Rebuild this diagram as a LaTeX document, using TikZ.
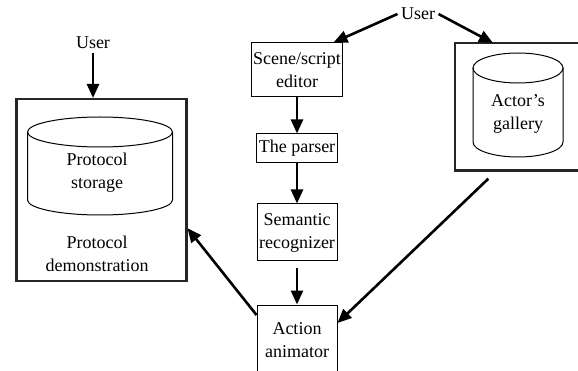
\documentclass[tikz,border=0pt]{standalone}
\usepackage{fontspec}
\setmainfont{Liberation Serif}
\usetikzlibrary{arrows.meta}

\tikzset{
  blockbox/.style={draw,line width=1pt,align=center,minimum width=80pt,inner sep=2pt},
  framebox/.style={anchor=north west,inner sep=0pt},
  frameline/.style={draw=black!85,line width=2.5pt},
  flow/.style={line width=2.6pt,-{Triangle[length=14pt,width=12pt]}}
}
% drum: centre x, top ellipse y, x radius, bottom ellipse y
\newcommand{\drum}[4]{%
  \draw[line width=1pt] (#1,#2) ellipse [x radius=#3pt,y radius=15pt];
  \draw[line width=1pt] (#1-#3,#2) -- (#1-#3,#4) arc[start angle=180,end angle=360,x radius=#3pt,y radius=15pt] -- (#1+#3,#2);}

\begin{document}
\begin{tikzpicture}[x=1pt,y=-1pt,every node/.style={font=\fontsize{18}{23}\selectfont}]
  \useasboundingbox (0,0) rectangle (578,371);
  \clip (0,0) rectangle (578,371);
  % left part
  \node (userL) at (93,43) {User};
  \node[framebox,frameline,minimum width=170pt,minimum height=182pt] (demo) at (15,98) {};
  \drum{100}{132}{72.5}{200}
  \node[align=center] (storage) at (97,172.5) {Protocol\\storage};
  \node[align=center] (demotext) at (97,254) {Protocol\\demonstration};
  % middle column
  \node[blockbox,minimum height=54pt] (editor) at (297,70) {Scene/script\\editor};
  \node[blockbox,minimum height=29pt] (parser) at (297,148.5) {The parser};
  \node[blockbox,minimum height=57pt] (recog) at (297,232.5) {Semantic\\recognizer};
  \node[blockbox,minimum height=70pt] (animator) at (297,340) {Action\\animator};
  % right part, frame runs off the page
  \node (userR) at (418,14) {User};
  \node[framebox,minimum width=140pt,minimum height=127pt] (gallery) at (455,43) {};
  \draw[frameline] (gallery.north east) -- (gallery.north west) -- (gallery.south west) -- (gallery.south east);
  \drum{518}{68}{45}{142}
  \node[align=center] (actors) at (518,114) {Actor’s\\gallery};
  % connectors
  \draw[flow] (userL.south) -- (userL.south |- demo.north);
  \draw[flow] (userR.west) -- ([xshift=-10pt]editor.north east);
  \draw[flow] (userR.east) -- ([xshift=38pt]gallery.north west);
  \draw[flow] (editor) -- (parser);
  \draw[flow] (parser) -- (recog);
  \draw[flow,shorten <=7pt] (recog) -- (animator);
  \draw[flow,shorten <=12pt] ([xshift=42pt]gallery.south west) -- ([yshift=17pt]animator.east);
  \draw[flow] ([yshift=25pt]animator.west) -- ([yshift=-38pt]demo.east);
\end{tikzpicture}
\end{document}
